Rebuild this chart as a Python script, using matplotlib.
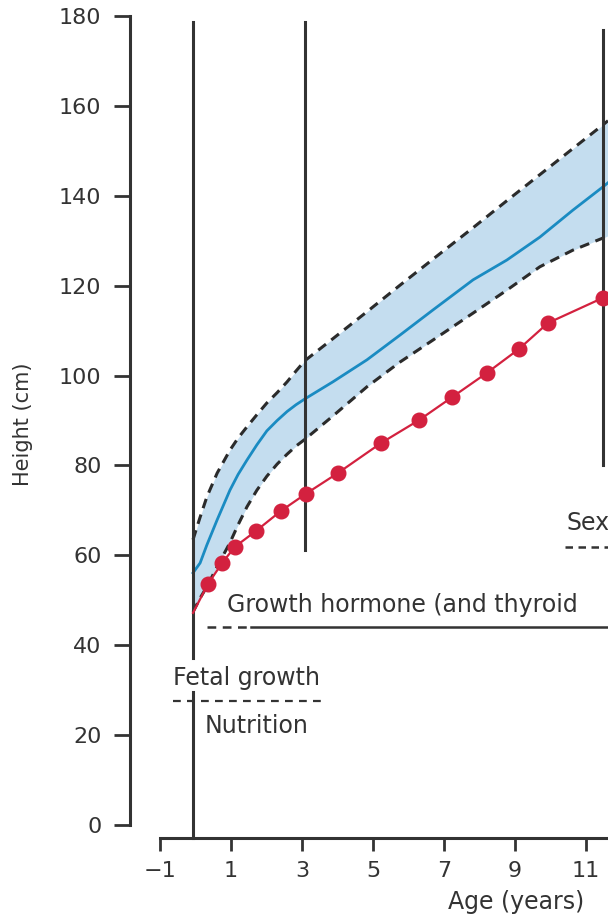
import matplotlib
matplotlib.use("Agg")
import matplotlib.pyplot as plt

plt.rcParams['font.family'] = ['DejaVu Sans']

# normal range (band), median and the patient's measured heights
band_age = [-0.07, 0.13, 0.32, 0.61, 0.97, 1.2, 1.45, 1.73, 2.01, 2.3, 2.58,
            2.83, 3.08, 3.87, 4.83, 5.76, 6.69, 7.82, 8.77, 9.70, 10.63,
            11.48, 11.62]
upper_height = [63.5, 68.5, 73.0, 78.3, 83.4, 86.1, 88.6, 91.3, 93.9, 96.2,
                98.6, 101.0, 103.3, 108.2, 114.2, 120.1, 125.9, 132.9, 138.9,
                144.7, 150.5, 155.8, 156.7]
median_height = [56.1, 58.3, 62.3, 67.9, 74.5, 78.0, 81.2, 84.6, 87.7, 90.0,
                 92.0, 93.5, 94.8, 98.6, 103.5, 109.0, 114.6, 121.3, 125.7,
                 130.8, 136.8, 142.0, 142.9]
lower_height = [47.4, 50.5, 53.0, 57.5, 62.8, 66.8, 70.8, 74.5, 77.6, 80.3,
                82.5, 84.3, 85.8, 91.0, 97.5, 103.0, 107.9, 113.9, 119.0,
                124.2, 127.9, 130.6, 131.1]

red_age = [-0.07, 0.35, 0.75, 1.11, 1.70, 2.41, 3.11, 4.01, 5.23, 6.30,
           7.23, 8.21, 9.11, 9.93, 11.48]
red_height = [47.2, 53.6, 58.3, 61.9, 65.4, 69.9, 73.7, 78.3, 85.0, 90.1,
              95.2, 100.6, 105.9, 111.7, 117.3]

# vertical markers: (age, bottom, top)
markers = [(-0.07, -2.9, 29.6), (-0.07, 37.2, 178.7),
           (3.08, 61.2, 178.7), (11.48, 80.1, 176.9)]

xticks = [-1, 1, 3, 5, 7, 9, 11]
yticks = [0, 20, 40, 60, 80, 100, 120, 140, 160, 180]

dark = '#333333'
red = '#d3213f'

fig = plt.figure(figsize=(6.08, 9.16), dpi=100)
ax = fig.add_axes([160 / 608, 1 - 825 / 916, 448 / 608, 809 / 916])
ax.set_xlim(-1, 11.62)
ax.set_ylim(0, 180)

ax.fill_between(band_age, lower_height, upper_height, color='#c4ddef',
                lw=0, zorder=1)
ax.plot(band_age, upper_height, color='#2b2b2b', lw=2.2,
        linestyle=(0, (3.2, 2.2)), zorder=2)
ax.plot(band_age, lower_height, color='#2b2b2b', lw=2.2,
        linestyle=(0, (3.2, 2.2)), zorder=2)
ax.plot(band_age, median_height, color='#1a8bc2', lw=2.0, zorder=3)

for x, y0, y1 in markers:
    ax.plot([x, x], [y0, y1], color=dark, lw=2.2, clip_on=False, zorder=4)

ax.plot(red_age, red_height, color=red, lw=1.6, marker='o', ms=10.5,
        markevery=slice(1, None), zorder=5, clip_on=True)

# hormone / growth-phase annotations
ax.plot([-0.63, 3.65], [27.6, 27.6], color=dark, lw=1.6,
        linestyle=(0, (3.5, 2.8)), zorder=4)
ax.plot([0.32, 1.45], [44.1, 44.1], color=dark, lw=1.8,
        linestyle=(0, (3.5, 2.6)), zorder=4)
ax.plot([1.55, 11.62], [44.1, 44.1], color=dark, lw=1.8, zorder=4)
ax.plot([10.41, 11.62], [61.9, 61.9], color=dark, lw=1.8,
        linestyle=(0, (3.0, 2.2)), zorder=4)

txt = dict(fontsize=17, color=dark, zorder=6)
ax.text(-0.63, 31.2, 'Fetal growth', ha='left', va='baseline', **txt)
ax.text(0.27, 20.5, 'Nutrition', ha='left', va='baseline', **txt)
ax.text(0.89, 47.4, 'Growth hormone (and thyroid', ha='left',
        va='baseline', **txt)
ax.text(10.45, 65.6, 'Sex', ha='left', va='baseline', **txt)

# detached axes
for side in ['top', 'right']:
    ax.spines[side].set_visible(False)
ax.spines['left'].set_position(('outward', 21.6))
ax.spines['bottom'].set_position(('outward', 9.4))
ax.spines['left'].set_bounds(0, 180)
for side in ['left', 'bottom']:
    ax.spines[side].set_linewidth(2.2)
    ax.spines[side].set_color(dark)

ax.set_xticks(xticks)
ax.set_yticks(yticks)
ax.tick_params(axis='y', length=11.5, width=2.0, pad=9, labelsize=16,
               colors=dark)
ax.tick_params(axis='x', length=9.4, width=2.0, pad=7, labelsize=16,
               colors=dark)

fig.text(516 / 608, 1 - 902 / 916, 'Age (years)', ha='center', va='center',
         fontsize=17, color=dark)
fig.text(23 / 608, 1 - 424 / 916, 'Height (cm)', ha='center', va='center',
         rotation=90, fontsize=15, color=dark)

fig.savefig('out.png', dpi=100)
